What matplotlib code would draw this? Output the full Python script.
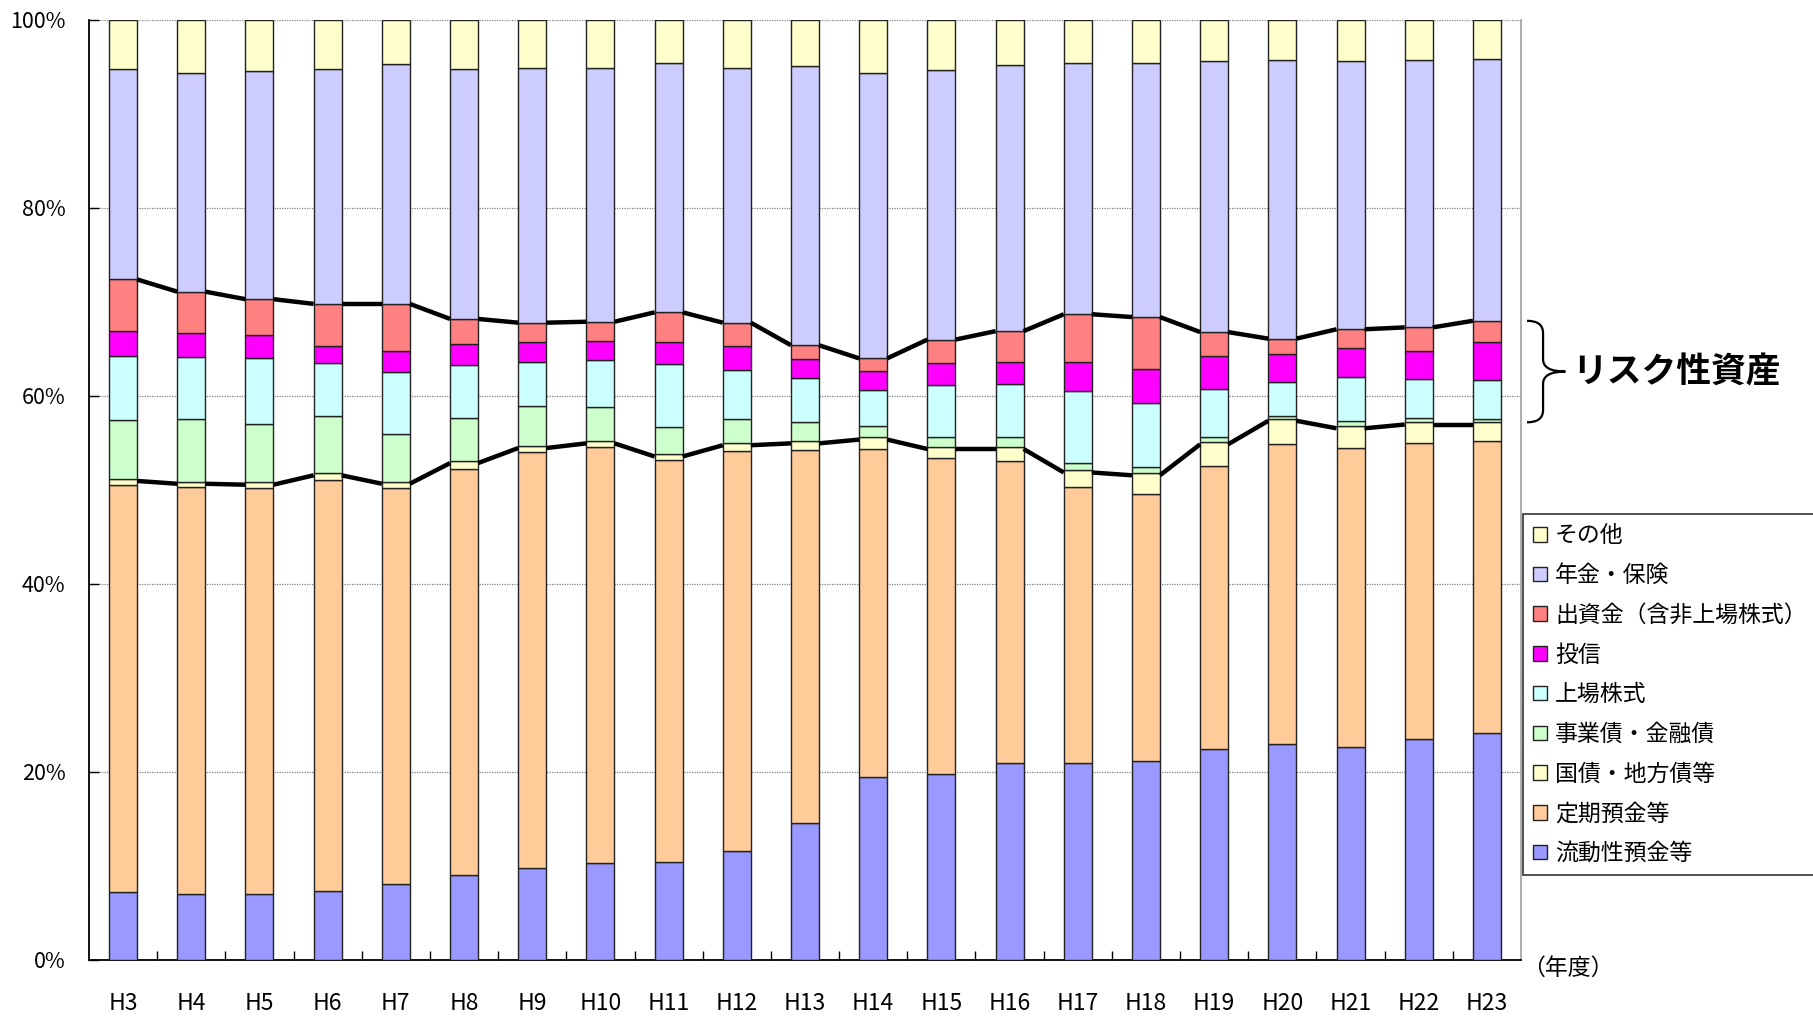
import matplotlib
matplotlib.use('Agg')
import matplotlib.pyplot as plt
import numpy as np
from matplotlib.path import Path
from matplotlib.patches import PathPatch
from matplotlib.ticker import FixedLocator
import matplotlib.transforms as mtransforms

plt.rcParams['font.family'] = ['Noto Sans CJK JP', 'DejaVu Sans']

years = ['H3', 'H4', 'H5', 'H6', 'H7', 'H8', 'H9', 'H10', 'H11', 'H12', 'H13',
         'H14', 'H15', 'H16', 'H17', 'H18', 'H19', 'H20', 'H21', 'H22', 'H23']

# shares (%) of each asset class, bottom to top
liquid_deposits = [7.2, 7.0, 7.0, 7.3, 8.1, 9.0, 9.8, 10.3, 10.4, 11.6, 14.6,
                   19.5, 19.8, 21.0, 21.0, 21.2, 22.4, 23.0, 22.7, 23.5, 24.2]
time_deposits = [43.3, 43.3, 43.2, 43.8, 42.1, 43.2, 44.2, 44.3, 42.8, 42.5, 39.7,
                 34.9, 33.6, 32.1, 29.3, 28.4, 30.2, 31.9, 31.8, 31.5, 31.0]
gov_bonds = [0.7, 0.6, 0.6, 0.7, 0.7, 0.9, 0.7, 0.6, 0.6, 0.9, 0.9,
             1.2, 1.2, 1.5, 1.8, 2.2, 2.5, 2.7, 2.3, 2.2, 2.0]
corp_bonds = [6.2, 6.7, 6.2, 6.1, 5.1, 4.6, 4.2, 3.6, 2.9, 2.6, 2.0,
              1.2, 1.0, 1.0, 0.8, 0.6, 0.5, 0.3, 0.5, 0.5, 0.4]
listed_stocks = [6.9, 6.5, 7.0, 5.6, 6.5, 5.6, 4.7, 5.0, 6.7, 5.2, 4.7,
                 3.8, 5.6, 5.7, 7.6, 6.9, 5.1, 3.6, 4.7, 4.1, 4.1]
inv_trusts = [2.6, 2.6, 2.5, 1.8, 2.3, 2.2, 2.1, 2.1, 2.3, 2.5, 2.0,
              2.1, 2.3, 2.3, 3.1, 3.6, 3.6, 3.0, 3.1, 3.0, 4.0]
equity_invest = [5.5, 4.4, 3.8, 4.5, 5.0, 2.7, 2.1, 2.0, 3.2, 2.5, 1.5,
                 1.3, 2.5, 3.3, 5.1, 5.5, 2.5, 1.6, 2.0, 2.5, 2.3]
pension_ins = [22.4, 23.3, 24.3, 25.0, 25.5, 26.6, 27.1, 27.0, 26.5, 27.1, 29.7,
               30.4, 28.7, 28.3, 26.7, 27.0, 28.8, 29.6, 28.5, 28.4, 27.9]
others = [5.2, 5.6, 5.4, 5.2, 4.7, 5.2, 5.1, 5.1, 4.6, 5.1, 4.9,
          5.6, 5.3, 4.8, 4.6, 4.6, 4.4, 4.3, 4.4, 4.3, 4.1]

series_labels = ['流動性預金等', '定期預金等', '国債・地方債等', '事業債・金融債', '上場株式',
                 '投信', '出資金（含非上場株式）', '年金・保険', 'その他']
series_colors = ['#9999FF', '#FFCC99', '#FFFFCC', '#CCFFCC', '#CCFFFF',
                 '#FF00FF', '#FF8080', '#CCCCFF', '#FFFFCC']
y_ticks = [0, 20, 40, 60, 80, 100]
y_tick_labels = ['0%', '20%', '40%', '60%', '80%', '100%']
risk_label = 'リスク性資産'
x_unit_label = '（年度）'

series = [liquid_deposits, time_deposits, gov_bonds, corp_bonds, listed_stocks,
          inv_trusts, equity_invest, pension_ins, others]

W, H = 1813, 1016
fig = plt.figure(figsize=(W / 100, H / 100), dpi=100)
ax = fig.add_axes([89 / W, 1 - 960 / H, (1521 - 89) / W, (960 - 20) / H])

x = np.arange(len(years))
bw = 0.41
bottom = np.zeros(len(years))
tops = []
for vals, lab, col in zip(series, series_labels, series_colors):
    v = np.array(vals)
    ax.bar(x, v, bw, bottom=bottom, color=col, edgecolor='#222222', linewidth=1.0,
           label=lab, zorder=3)
    bottom = bottom + v
    tops.append(bottom.copy())

# connecting lines for risk assets (bottom: below top of 国債, top: top of 出資金)
line_lw = 3.2
half_lw_data = (line_lw / 72 * 100) / 2 / 9.4  # half line width in % units
for level, off in ((tops[2], -half_lw_data), (tops[6], 0.0)):
    for i in range(len(years) - 1):
        ax.plot([x[i] + bw / 2, x[i + 1] - bw / 2], [level[i] + off, level[i + 1] + off],
                color='black', linewidth=line_lw, solid_capstyle='butt', zorder=4)

ax.set_xlim(-0.5, len(years) - 0.5)
ax.set_ylim(0, 100)
ax.set_xticks(x)
ax.set_xticklabels(years, fontsize=16.5)
ax.xaxis.set_minor_locator(FixedLocator(np.arange(0.5, len(years) - 0.5, 1)))
ax.tick_params(axis='x', which='major', length=0, pad=23)
ax.tick_params(axis='x', which='minor', length=6.5, width=1.0, direction='in')
ax.set_yticks(y_ticks)
ax.set_yticklabels(y_tick_labels, fontsize=15.5)
ax.tick_params(axis='y', length=7, width=1.0, direction='in', pad=17)

ax.grid(axis='y', color='#808080', linestyle=(0, (1, 1)), linewidth=0.9, zorder=0)
ax.set_axisbelow(True)
ax.spines['top'].set_visible(False)
ax.spines['right'].set_color('#A0A0A0')
ax.spines['right'].set_linewidth(1.2)
ax.spines['left'].set_linewidth(1.3)
ax.spines['bottom'].set_linewidth(1.3)

# legend (reverse order)
handles, labels = ax.get_legend_handles_labels()
leg = ax.legend(handles[::-1], labels[::-1], loc='upper left',
                bbox_to_anchor=(1523 / W, 1 - 514 / H), bbox_transform=fig.transFigure,
                borderaxespad=0, frameon=True, fancybox=False, edgecolor='black',
                fontsize=16.5, handlelength=0.6, handleheight=0.6, handletextpad=0.35,
                labelspacing=0.73, borderpad=0.45)
leg.get_frame().set_linewidth(1.2)

# brace for risk assets, using last bar's range
trans = mtransforms.blended_transform_factory(ax.transAxes, ax.transData)
ytop = tops[6][-1]
ybot = tops[2][-1]
ymid = (ytop + ybot) / 2
x0, x1, x2 = 1.0042, 1.0154, 1.031
r = 1.3
verts = [(x0, ytop), (x1, ytop), (x1, ytop - r),
         (x1, ymid + r), (x1, ymid), (x2, ymid),
         (x1, ymid), (x1, ymid - r),
         (x1, ybot + r), (x1, ybot), (x0, ybot)]
codes = [Path.MOVETO, Path.CURVE3, Path.CURVE3,
         Path.LINETO, Path.CURVE3, Path.CURVE3,
         Path.CURVE3, Path.CURVE3,
         Path.LINETO, Path.CURVE3, Path.CURVE3]
brace = PathPatch(Path(verts, codes), transform=trans, fill=False, edgecolor='black',
                  linewidth=1.6, clip_on=False)
ax.add_patch(brace)
ax.text(1.0356, ymid, risk_label, transform=trans, fontsize=25, fontweight='bold',
        ha='left', va='center', clip_on=False)

fig.text(1522 / W, 1 - 968 / H, x_unit_label, fontsize=16.5, ha='left', va='center')

fig.savefig('out.png', dpi=100)
